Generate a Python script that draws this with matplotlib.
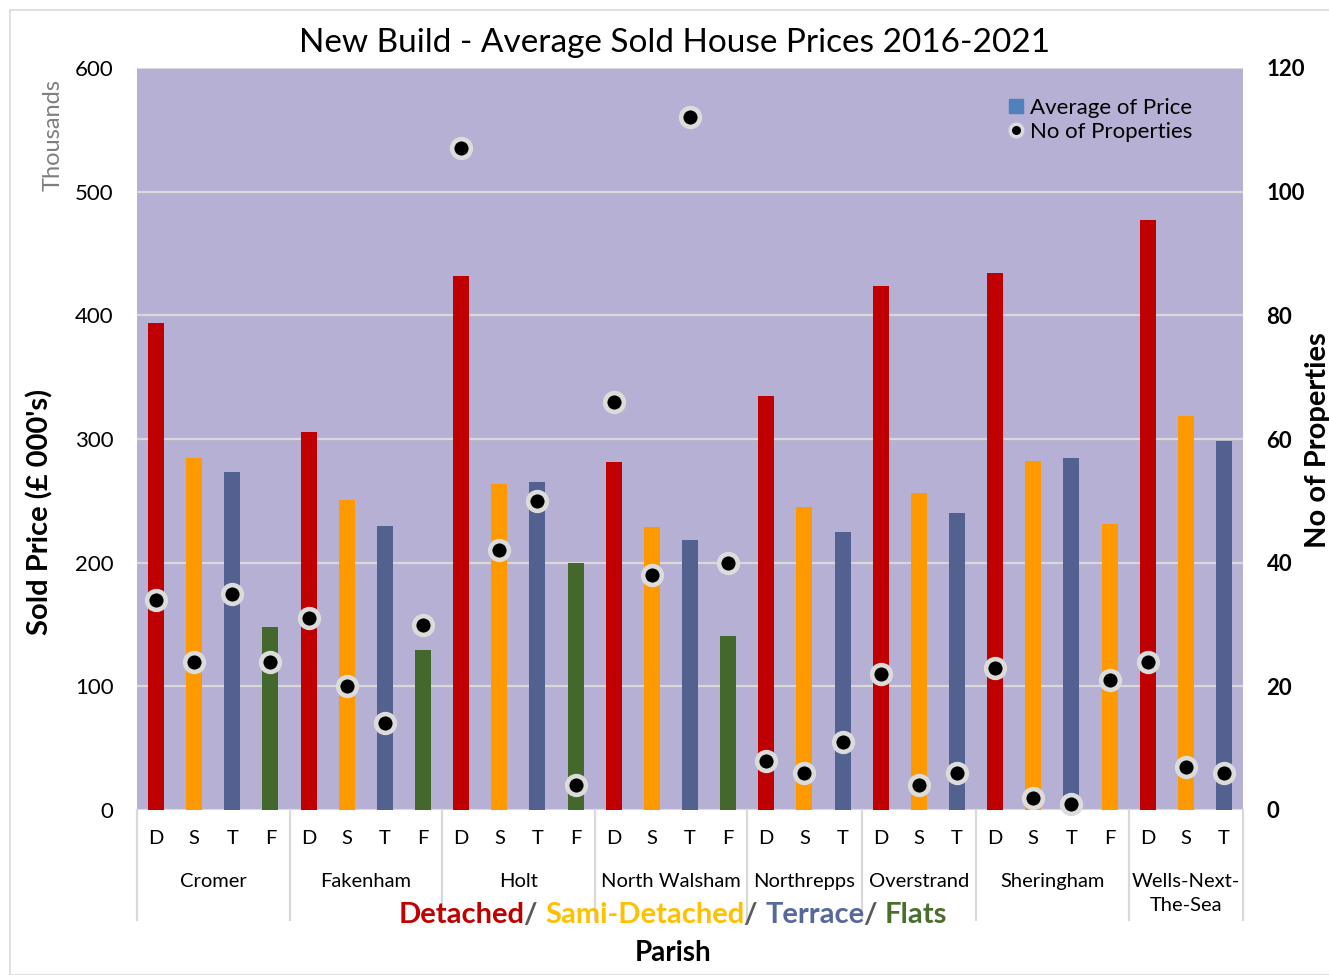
import matplotlib
matplotlib.use('Agg')
import matplotlib.pyplot as plt
from matplotlib.patches import Rectangle
from matplotlib.lines import Line2D

plt.rcParams['font.family'] = ['Lato', 'DejaVu Sans']

parishes = ['Cromer', 'Fakenham', 'Holt', 'North Walsham', 'Northrepps',
            'Overstrand', 'Sheringham', 'Wells-Next-\nThe-Sea']
types = [['D', 'S', 'T', 'F'], ['D', 'S', 'T', 'F'], ['D', 'S', 'T', 'F'],
         ['D', 'S', 'T', 'F'], ['D', 'S', 'T'], ['D', 'S', 'T'],
         ['D', 'S', 'T', 'F'], ['D', 'S', 'T']]
# average sold price, thousands of pounds
avg_price = [394, 285, 273, 148,
             306, 251, 230, 129,
             432, 264, 265, 200,
             281, 229, 218, 141,
             335, 245, 225,
             424, 256, 240,
             434, 282, 285, 231,
             477, 319, 298]
# number of properties sold
no_props = [34, 24, 35, 24,
            31, 20, 14, 30,
            107, 42, 50, 4,
            66, 38, 112, 40,
            8, 6, 11,
            22, 4, 6,
            23, 2, 1, 21,
            24, 7, 6]

type_col = {'D': '#C00000', 'S': '#FF9900', 'T': '#536190', 'F': '#44682B'}
bg = '#B6B0D4'
grid_c = '#D9D9D9'

codes = [t for g in types for t in g]
cols = [type_col[t] for t in codes]
cols[25] = type_col['S']   # Sheringham flats drawn orange in the original
x = list(range(len(codes)))

fig = plt.figure(figsize=(13.29, 9.75), dpi=100)
fig.patches.append(Rectangle((10/1329, 0), 1.2, 1 - 10/975, transform=fig.transFigure,
                             fill=False, edgecolor='#D9D9D9', lw=1.2))
ax = fig.add_axes([137/1329, 1 - 810/975, 1106/1329, 742/975])
ax.set_facecolor(bg)
ax.bar(x, avg_price, width=0.42, color=cols, zorder=3)
ax.set_xlim(-0.5, len(codes) - 0.5)
ax.set_ylim(0, 600)
ax.set_yticks(range(0, 601, 100))
ax.yaxis.grid(True, color=grid_c, lw=1.6, zorder=1)
ax.set_axisbelow(True)
for s in ax.spines.values():
    s.set_visible(False)
ax.tick_params(axis='y', length=0, labelsize=16, pad=17)
ax.set_xticks([])

ax2 = ax.twinx()
ax2.plot(x, no_props, 'o', ms=13.5, mfc='black', mec='#DCDCDC', mew=3.3,
         zorder=5, clip_on=False)
ax2.set_ylim(0, 120)
ax2.set_yticks(range(0, 121, 20))
for s in ax2.spines.values():
    s.set_visible(False)
ax2.tick_params(axis='y', length=0, labelsize=16, pad=17)
for lab in ax2.get_yticklabels():
    lab.set_fontweight('bold')

# multi-level category axis
tr = ax.get_xaxis_transform()
start = 0
bounds = [-0.5]
for name, g in zip(parishes, types):
    for i, t in enumerate(g):
        ax.text(start + i, -0.038, t, transform=tr, ha='center', va='center', fontsize=14.5)
    mid = start + (len(g) - 1) / 2
    ax.text(mid, -0.085, name, transform=tr, ha='center', va='top', fontsize=14.5,
            linespacing=1.5)
    start += len(g)
    bounds.append(start - 0.5)
for b in bounds:
    ax.add_line(Line2D([b, b], [0, -0.148], transform=tr, color=grid_c, lw=1.6,
                       clip_on=False))

# legend
h1 = Line2D([], [], marker='s', ls='none', color='#4F81BD', ms=10)
h2 = Line2D([], [], marker='o', ls='none', mfc='black', mec='#DCDCDC', mew=2.5, ms=9)
ax.legend([h1, h2], ['Average of Price', 'No of Properties'], loc='upper right',
          bbox_to_anchor=(0.972, 0.987), frameon=False, fontsize=16, handlelength=0.6,
          handletextpad=0.3, labelspacing=0.2)

fig.text(675/1329, 1 - 43/975, 'New Build - Average Sold House Prices 2016-2021',
         ha='center', va='center', fontsize=24)
fig.text(53/1329, 1 - 135/975, 'Thousands', rotation=90, ha='center', va='center',
         fontsize=17, color='#7F7F7F')
fig.text(40/1329, 1 - 512/975, "Sold Price (£ 000's)", rotation=90, ha='center',
         va='center', fontsize=21, fontweight='bold')
fig.text(1318/1329, 1 - 440/975, 'No of Properties', rotation=90, ha='center',
         va='center', fontsize=21, fontweight='bold')
fig.text(673/1329, 1 - 953/975, 'Parish', ha='center', va='center', fontsize=20,
         fontweight='bold')

# coloured key text under the axis
pieces = [('Detached', '#C00000'), ('/ ', '#595959'), ('Sami-Detached', '#FFC000'),
          ('/ ', '#595959'), ('Terrace', '#56689C'), ('/ ', '#595959'),
          ('Flats', '#4A6E2E')]
fig.canvas.draw()
r = fig.canvas.get_renderer()
objs = []
total = 0
for s, c in pieces:
    t = fig.text(0, 1 - 915/975, s, color=c, fontsize=21, fontweight='bold',
                 ha='left', va='center')
    w = t.get_window_extent(r).width
    objs.append((t, w))
    total += w
xpos = 673 - total / 2
for t, w in objs:
    t.set_x(xpos / 1329)
    xpos += w

fig.savefig('out.png', dpi=100)
